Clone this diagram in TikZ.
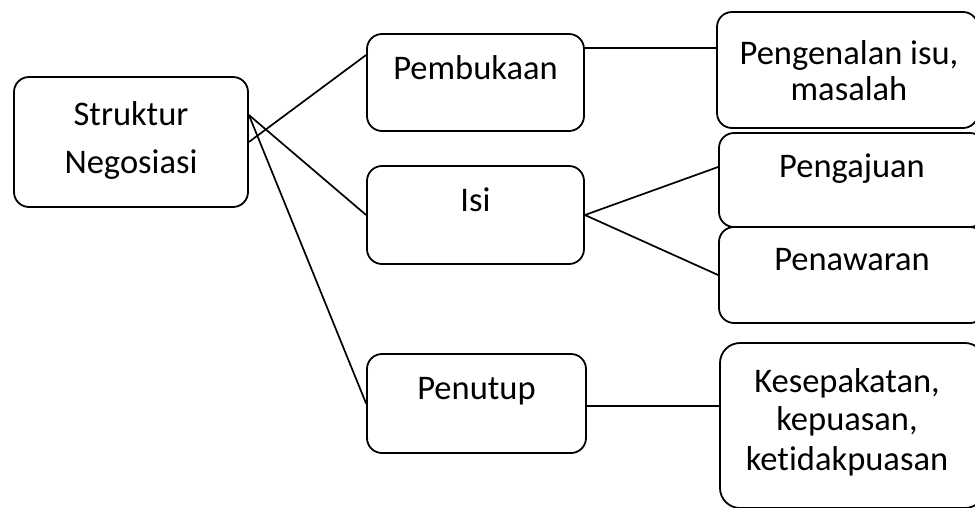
\documentclass[tikz,border=0pt]{standalone}
\usepackage{fontspec}
\setmainfont{Carlito}[Ligatures=NoCommon]
\usetikzlibrary{calc}
\tikzset{
  box/.style={draw=black, line width=1.8pt, rounded corners=15pt, inner sep=0pt},
  lbl/.style={anchor=base, inner sep=0pt, font=\fontsize{34.5}{40}\selectfont},
  conn/.style={draw=black, line width=1.7pt},
}
\begin{document}
\begin{tikzpicture}[x=1pt, y=-1pt]
\useasboundingbox (0,0) rectangle (975,507);
\clip (0,0) rectangle (975,507);
% boxes
\node[box, minimum width=234pt, minimum height=130pt] (s) at (131,142) {};
\node[box, minimum width=217pt, minimum height=97pt] (pemb) at (475.5,82.5) {};
\node[box, minimum width=217pt, minimum height=98pt] (isi) at (475.5,215) {};
\node[box, minimum width=219pt, minimum height=99pt] (pen) at (476.5,403.5) {};
\node[box, minimum width=261pt, minimum height=116pt] (peng) at (847.5,70) {};
\node[box, minimum width=266pt, minimum height=94pt] (aju) at (852,180) {};
\node[box, minimum width=266pt, minimum height=96pt] (taw) at (852,275) {};
\node[box, rounded corners=20pt, minimum width=265pt, minimum height=165pt] (kes) at (852.5,425.5) {};
% texts
\node[lbl] (t1) at (131,125) {Struktur};
\node[lbl] (t2) at (131,173) {Negosiasi};
\node[lbl] (t3) at (475.5,79) {Pembukaan};
\node[lbl] (t4) at (475.5,211) {Isi};
\node[lbl] (t5) at (476.5,399) {Penutup};
\node[lbl] (t6) at (849,64) {Pengenalan isu,};
\node[lbl] (t7) at (849,100) {masalah};
\node[lbl] (t8) at (852,177) {Pengajuan};
\node[lbl] (t9) at (852,270) {Penawaran};
\node[lbl] (t10) at (847,392) {Kesepakatan,};
\node[lbl] (t11) at (847,430) {kepuasan,};
\node[lbl] (t12) at (847,470) {ketidakpuasan};
% connector points
\coordinate (sA) at ($(s.east)+(0,-27)$);
\coordinate (pembIn) at ($(pemb.west)+(0,-27.5)$);
\coordinate (pembOut) at ($(pemb.east)+(0,-34.5)$);
\coordinate (ajuIn) at ($(aju.west)+(0,-13)$);
\coordinate (penOut) at ($(pen.east)+(0,2.5)$);
% connectors
\draw[conn] (s.east) -- (pembIn);
\draw[conn] (sA) -- (isi.west);
\draw[conn] (sA) -- (pen.west);
\draw[conn] (pembOut) -- (pembOut -| peng.west);
\draw[conn] (isi.east) -- (ajuIn);
\draw[conn] (isi.east) -- (taw.west);
\draw[conn] (penOut) -- (penOut -| kes.west);
\end{tikzpicture}
\end{document}
